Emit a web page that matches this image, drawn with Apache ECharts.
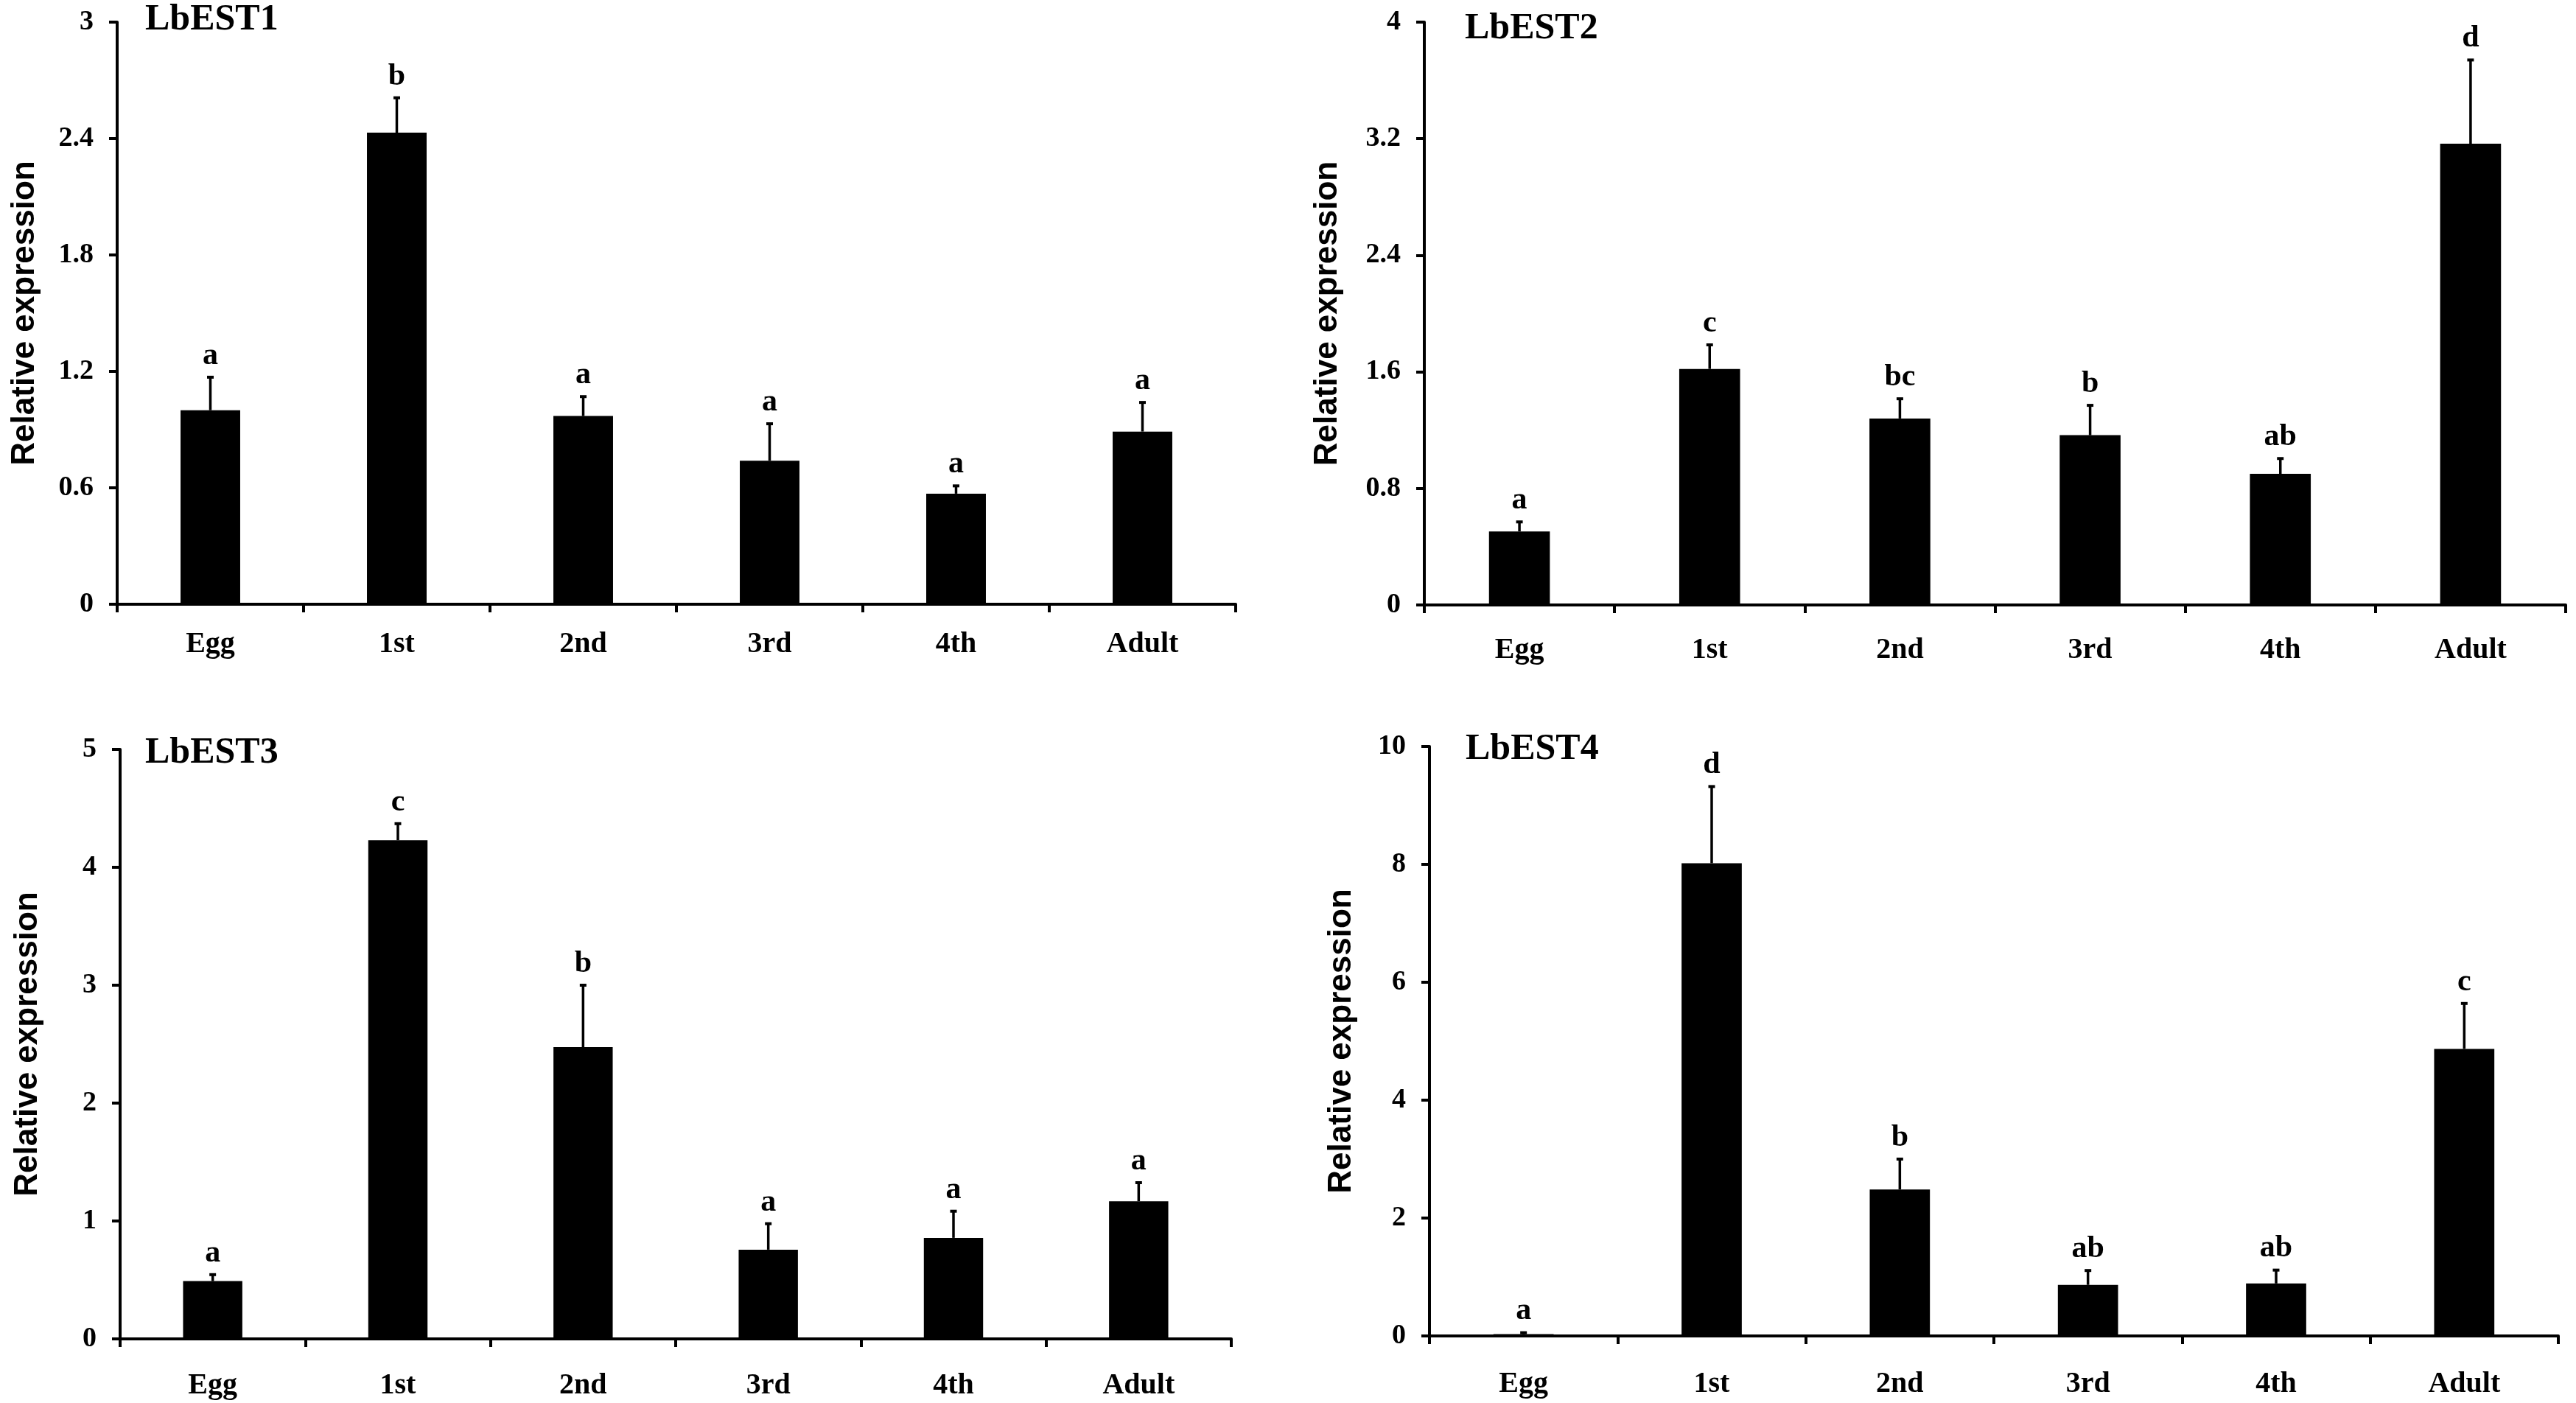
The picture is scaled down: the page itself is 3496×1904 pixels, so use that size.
<!DOCTYPE html>
<html lang="en">

<head>
    <meta charset="UTF-8">
    <title>LbEST relative expression</title>
    <script src="https://cdn.jsdelivr.net/npm/echarts@6/dist/echarts.min.js"></script>
    <style>
        body { margin: 0; background: #fff; }
    </style>
</head>

<body>
    <div id="main" style="width: 3496px;height:1904px;"></div>
    <script>
        let stages = ['Egg', '1st', '2nd', '3rd', '4th', 'Adult']
        let geneNames = ['LbEST1', 'LbEST2', 'LbEST3', 'LbEST4']

        let est1Mean = [1.0, 2.43, 0.97, 0.74, 0.57, 0.89]
        let est1Sd = [0.17, 0.18, 0.10, 0.19, 0.04, 0.15]
        let est1Letters = ['a', 'b', 'a', 'a', 'a', 'a']

        let est2Mean = [0.505, 1.62, 1.28, 1.165, 0.90, 3.165]
        let est2Sd = [0.065, 0.165, 0.135, 0.205, 0.105, 0.575]
        let est2Letters = ['a', 'c', 'bc', 'b', 'ab', 'd']

        let est3Mean = [0.49, 4.23, 2.475, 0.757, 0.857, 1.167]
        let est3Sd = [0.055, 0.14, 0.525, 0.22, 0.226, 0.158]
        let est3Letters = ['a', 'c', 'b', 'a', 'a', 'a']

        let est4Mean = [0.03, 8.02, 2.485, 0.866, 0.89, 4.87]
        let est4Sd = [0.025, 1.3, 0.515, 0.244, 0.227, 0.77]
        let est4Letters = ['a', 'd', 'b', 'ab', 'ab', 'c']

        // y axis ranges
        let yMax = [3, 4, 5, 10]
        let yStep = [0.6, 0.8, 1, 2]
    </script>
    <script>
        var chartDom = document.getElementById('main');
        var myChart = echarts.init(chartDom);
        var option;

        var serif = '"Liberation Serif", "Times New Roman", serif';
        var sans = '"Liberation Sans", Arial, sans-serif';

        var means = [est1Mean, est2Mean, est3Mean, est4Mean];
        var sds = [est1Sd, est2Sd, est3Sd, est4Sd];
        var letters = [est1Letters, est2Letters, est3Letters, est4Letters];

        // panel boxes (px)
        var grids = [
            { left: 159, top: 30, width: 1518, height: 790 },
            { left: 1933, top: 30, width: 1549, height: 791 },
            { left: 163, top: 1017, width: 1508, height: 800 },
            { left: 1940, top: 1013, width: 1532, height: 800 }
        ];
        var titlePos = [
            { left: 197, top: 2 },
            { left: 1988, top: 14 },
            { left: 197, top: 997 },
            { left: 1989, top: 992 }
        ];
        var nameGaps = [103, 109, 103, 97];
        var labelGaps = [35, 42, 44, 46];

        function errorBars(letterList) {
            return function (params, api) {
                var idx = api.value(0);
                var mean = api.value(1);
                var sd = api.value(2);
                var base = api.coord([idx, mean]);
                var top = api.coord([idx, mean + sd]);
                return {
                    type: 'group',
                    children: [
                        {
                            type: 'line',
                            shape: { x1: base[0], y1: base[1], x2: top[0], y2: top[1] },
                            style: { stroke: '#000', lineWidth: 3.5 }
                        },
                        {
                            type: 'line',
                            shape: { x1: top[0] - 4.5, y1: top[1], x2: top[0] + 4.5, y2: top[1] },
                            style: { stroke: '#000', lineWidth: 4 }
                        },
                        {
                            type: 'text',
                            x: top[0],
                            y: top[1] - 8,
                            style: {
                                text: letterList[params.dataIndex],
                                align: 'center',
                                verticalAlign: 'bottom',
                                font: 'bold 42px ' + serif,
                                fill: '#000'
                            }
                        }
                    ]
                };
            };
        }

        var title = [], grid = [], xAxis = [], yAxis = [], series = [];
        for (var i = 0; i < 4; i++) {
            title.push({
                text: geneNames[i],
                left: titlePos[i].left,
                top: titlePos[i].top,
                padding: 0,
                textStyle: { fontFamily: serif, fontWeight: 'bold', fontSize: 50, color: '#000' }
            });
            grid.push(grids[i]);
            xAxis.push({
                type: 'category',
                gridIndex: i,
                data: stages,
                axisLine: { lineStyle: { color: '#000', width: 4 } },
                axisTick: { show: true, length: 11, lineStyle: { color: '#000', width: 4 } },
                axisLabel: {
                    margin: labelGaps[i],
                    fontFamily: serif, fontWeight: 'bold', fontSize: 40, color: '#000'
                },
                splitLine: { show: false }
            });
            yAxis.push({
                type: 'value',
                gridIndex: i,
                min: 0,
                max: yMax[i],
                interval: yStep[i],
                name: 'Relative expression',
                nameLocation: 'middle',
                nameGap: nameGaps[i],
                nameTextStyle: { fontFamily: sans, fontWeight: 'bold', fontSize: 44, color: '#000' },
                axisLine: { show: true, lineStyle: { color: '#000', width: 4 } },
                axisTick: { show: true, length: 11, lineStyle: { color: '#000', width: 4 } },
                axisLabel: {
                    margin: 32,
                    fontFamily: serif, fontWeight: 'bold', fontSize: 38, color: '#000',
                    formatter: function (v) { return String(Math.round(v * 10) / 10); }
                },
                splitLine: { show: false }
            });
            series.push({
                type: 'bar',
                xAxisIndex: i,
                yAxisIndex: i,
                barWidth: '32%',
                itemStyle: { color: '#000' },
                data: means[i]
            });
            series.push({
                type: 'custom',
                xAxisIndex: i,
                yAxisIndex: i,
                renderItem: errorBars(letters[i]),
                encode: { x: 0, y: 1 },
                z: 3,
                data: means[i].map(function (m, k) { return [k, m, sds[i][k]]; })
            });
        }

        option = {
            backgroundColor: '#fff',
            animation: false,
            title: title,
            grid: grid,
            xAxis: xAxis,
            yAxis: yAxis,
            series: series
        };

        option && myChart.setOption(option);
    </script>
</body>

</html>
